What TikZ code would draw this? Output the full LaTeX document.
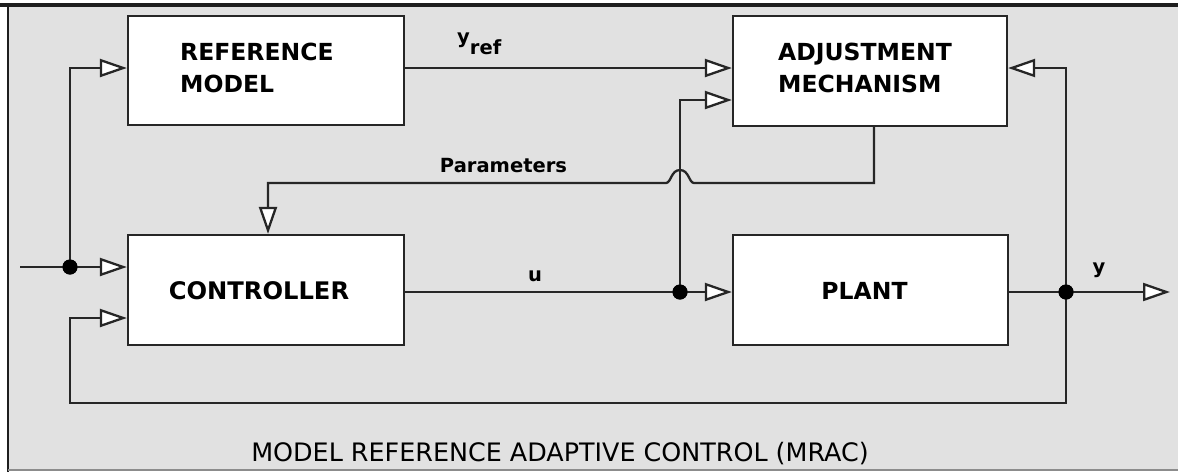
\documentclass[tikz,border=0pt]{standalone}
\usepackage{fontspec}
\setmainfont{DejaVu Sans}
\usetikzlibrary{arrows.meta}
\definecolor{bgc}{RGB}{225,225,225}
\definecolor{linec}{RGB}{38,38,38}
\definecolor{framec}{RGB}{30,30,30}
\definecolor{bottomc}{RGB}{140,140,140}
\begin{document}
\begin{tikzpicture}[x=1pt,y=-1pt,
  box/.style={draw=linec, line width=2.3pt, fill=white, inner sep=0pt, minimum width=276pt, minimum height=110pt},
  boxtext/.style={font=\fontsize{23.5}{32}\selectfont\bfseries, align=left, inner sep=0pt, text=black},
  lbl/.style={font=\fontsize{19.5}{24}\selectfont\bfseries, inner sep=0pt, text=black},
  conn/.style={draw=linec, line width=2.3pt},
  arr/.style={conn, -{Triangle[open, length=27pt, width=18pt, fill=white]}},
  dot/.style={circle, fill=black, inner sep=0pt, minimum size=15pt},
]
\useasboundingbox (0,0) rectangle (1178,472);
% frame
\fill[white] (0,0) rectangle (1178,472);
\fill[bgc] (8,5) rectangle (1178,470);
\draw[line width=4pt, framec] (0,5) -- (1178,5);
\draw[line width=2pt, framec] (8,5) -- (8,472);
\draw[line width=1.5pt, bottomc] (8,470) -- (1178,470);

% boxes
\node[box, minimum height=109pt] (ref) at (266,70.5) {};
\node[box, minimum width=274pt] (adj) at (870,71) {};
\node[box] (ctrl) at (266,290) {};
\node[box, minimum width=275pt] (plant) at (870.5,290) {};

\node[boxtext, anchor=west] (reft) at (180,68) {REFERENCE\\MODEL};
\node[boxtext, anchor=west] (adjt) at (778,67.5) {ADJUSTMENT\\MECHANISM};
\node[boxtext, font=\fontsize{24.2}{32}\selectfont\bfseries] (ctrlt) at (259,291) {CONTROLLER};
\node[boxtext] (plantt) at (864.5,291) {PLANT};

% helper coordinates
\coordinate (in) at (20,267);
\coordinate (h68) at (0,68);
\coordinate (h100) at (0,100);
\coordinate (h292) at (0,292);
\coordinate (h318) at (0,318);
\coordinate (fb) at (70,403);
\coordinate (out) at (1170,292);
\coordinate (px) at (874,0);
\coordinate (pc) at (268,0);
\coordinate (hopR) at (694,183);
\coordinate (hopT) at (680,170);
\coordinate (hopL) at (666,183);

\node[dot] (d1) at (70,267) {};
\node[dot] (d2) at (680,292) {};
\node[dot] (d3) at (1066,292) {};

% connectors
\draw[arr] (in) -- (ctrl.west |- in);
\draw[arr] (d1.center) |- (ref.west |- h68);
\draw[arr] (ref.east |- h68) -- (adj.west |- h68);
\draw[arr] (ctrl.east |- h292) -- (plant.west |- h292);
\draw[arr] (d2.center) |- (adj.west |- h100);
\draw[arr] (plant.east |- h292) -- (out);
\draw[arr] (d3.center) |- (adj.east |- h68);
\draw[arr] (d3.center) |- (fb) |- (ctrl.west |- h318);
\draw[arr] (adj.south -| px) |- (hopR) .. controls (689,183) and (689,170) .. (hopT) .. controls (671,170) and (671,183) .. (hopL) -| (ctrl.north -| pc);

% redraw dots on top
\node[dot] at (d1) {};
\node[dot] at (d2) {};
\node[dot] at (d3) {};

% labels
\node[lbl, anchor=base west] (yref) at (457,43) {y\raisebox{-11pt}{ref}};
\node[lbl, anchor=base] (param) at (503.5,172) {Parameters};
\node[lbl, anchor=base] (ulbl) at (535,281) {u};
\node[lbl, anchor=base] (ylbl) at (1099,273) {y};

\node[font=\fontsize{25.4}{30}\selectfont, anchor=base, inner sep=0pt, text=black] (title) at (560,461) {MODEL REFERENCE ADAPTIVE CONTROL (MRAC)};
\end{tikzpicture}
\end{document}
